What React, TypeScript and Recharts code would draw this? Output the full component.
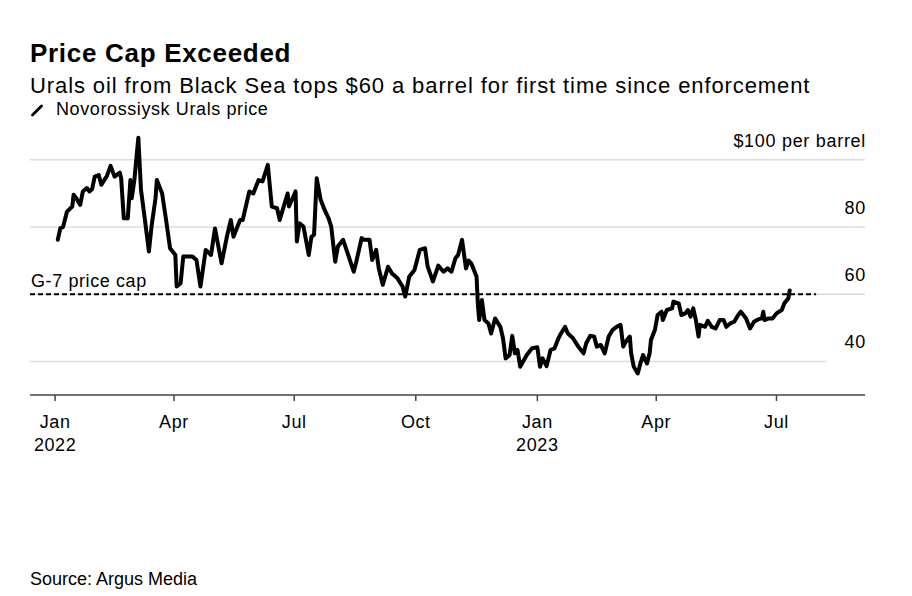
import { LineChart, Line, XAxis, YAxis, ReferenceLine } from 'recharts';

// Novorossiysk Urals price, $ per barrel (days counted from 1 Jan 2022)
const days = [
  2, 4, 6, 8, 9, 13, 14, 16, 19, 21, 24, 26, 28, 30, 33, 35, 38, 39, 42, 45,
  49, 50, 52, 55, 57, 58, 60, 63, 65, 68, 71, 73, 76, 77, 81, 84, 87, 91, 92, 95,
  97, 104, 107, 110, 114, 118, 121, 126, 130, 133, 135, 140, 142, 147, 150, 154, 157, 161, 164, 168,
  170, 173, 176, 177, 182, 183, 185, 188, 192, 194, 196, 198, 201, 204, 207, 209, 212, 214, 218, 221,
  226, 228, 232, 234, 238, 240, 243, 245, 248, 252, 255, 259, 263, 265, 268, 272, 276, 280, 282, 286,
  290, 294, 297, 300, 303, 305, 308, 311, 313, 315, 319, 320, 321, 323, 325, 328, 330, 333, 337, 339,
  341, 344, 346, 348, 350, 352, 357, 361, 365, 367, 369, 372, 375, 378, 381, 383, 386, 388, 392, 396,
  400, 402, 405, 408, 410, 413, 416, 419, 422, 425, 428, 430, 432, 435, 436, 438, 441, 443, 445, 448,
  450, 451, 454, 456, 459, 460, 463, 467, 468, 472, 474, 477, 479, 481, 483, 485, 487, 488, 492, 494,
  497, 500, 503, 506, 508, 511, 514, 517, 519, 523, 526, 529, 532, 535, 536, 537, 540, 543, 546, 550,
  552, 555, 556,
];

const prices = [
  76.2, 79.7, 80.0, 83.1, 84.6, 86.1, 89.6, 88.6, 86.6, 90.6, 91.6, 90.6, 91.3, 95.0, 95.5, 92.6, 94.5, 95.0, 98.2, 95.0,
  96.2, 94.5, 82.6, 82.6, 94.0, 88.6, 94.0, 106.6, 91.1, 82.1, 72.7, 80.2, 88.6, 94.0, 90.0, 82.1, 73.7, 71.7, 62.3, 63.3,
  71.2, 71.2, 70.2, 62.3, 73.2, 71.7, 79.6, 69.2, 77.1, 82.1, 77.1, 82.1, 82.1, 90.6, 90.0, 94.0, 93.6, 98.5, 86.1, 85.6,
  82.1, 86.1, 90.0, 86.1, 90.6, 75.7, 81.1, 80.1, 71.7, 77.1, 77.7, 94.5, 88.1, 85.1, 82.6, 80.1, 69.7, 74.2, 76.2, 72.7,
  66.7, 69.7, 76.7, 76.2, 76.2, 70.2, 73.2, 67.7, 62.8, 68.2, 66.2, 64.8, 62.3, 59.3, 65.2, 67.2, 73.2, 73.7, 68.2, 63.8,
  68.5, 66.7, 67.7, 66.7, 70.7, 71.7, 76.2, 67.7, 70.0, 69.2, 65.2, 56.8, 52.3, 58.3, 52.3, 51.3, 48.3, 52.8, 50.3, 46.9,
  40.9, 41.9, 47.6, 42.4, 43.4, 38.4, 41.9, 43.9, 44.2, 38.4, 40.9, 38.6, 43.4, 43.9, 46.9, 48.4, 50.3, 48.4, 46.9, 44.4,
  42.4, 45.4, 47.6, 47.4, 44.4, 44.9, 42.4, 47.4, 49.4, 50.3, 50.9, 44.4, 45.9, 47.4, 42.4, 38.4, 36.4, 39.4, 41.9, 39.4,
  42.4, 46.4, 49.4, 53.8, 54.8, 52.3, 55.3, 55.8, 57.8, 57.3, 53.8, 54.3, 55.3, 53.3, 55.8, 52.3, 47.4, 50.9, 50.3, 52.1,
  50.3, 49.8, 52.3, 52.3, 50.3, 51.3, 51.8, 53.8, 54.8, 52.8, 49.8, 51.8, 52.5, 52.8, 54.8, 52.3, 52.8, 52.8, 54.3, 55.3,
  57.3, 58.8, 61.1,
];

const tickDates = ['2022-01-01', '2022-04-01', '2022-07-01', '2022-10-01', '2023-01-01', '2023-04-01', '2023-07-01'];
const tickMonths = ['Jan', 'Apr', 'Jul', 'Oct', 'Jan', 'Apr', 'Jul'];
const tickYears = ['2022', '', '', '', '2023', '', ''];
const priceTicks = [40, 60, 80, 100];
const priceCap = 60;

const DAY0 = Date.UTC(2022, 0, 1);
const toDay = (iso: string) => (Date.parse(iso) - DAY0) / 86400000;
const xTicks = tickDates.map(toDay);
const data = days.map((d, i) => ({ day: d, price: prices[i] }));

const FONT = '"Liberation Sans", Arial, Helvetica, sans-serif';
const W = 912;
const H = 596;
const MARGIN = { top: 133, right: 46, bottom: 141, left: 30 };
const YAXIS_W = 1;
const XAXIS_H = 60;
const PLOT_BOTTOM = H - MARGIN.bottom - XAXIS_H;
const RIGHT_EDGE = W - MARGIN.right;
const X_DOMAIN: [number, number] = [-19, 613];
const GRID40_END = 583.5;
const CAP_END = 576;

function MonthTick({ x, payload }: any) {
  const i = xTicks.indexOf(payload.value);
  return (
    <g fontFamily={FONT} fontSize={18} fill="#000" letterSpacing={0.6}>
      <text x={x} y={PLOT_BOTTOM + 33} textAnchor="middle">{tickMonths[i]}</text>
      {tickYears[i] && (
        <text x={x} y={PLOT_BOTTOM + 56} textAnchor="middle">{tickYears[i]}</text>
      )}
    </g>
  );
}

function PriceTick({ y, payload }: any) {
  const v = payload.value;
  return (
    <text x={RIGHT_EDGE} y={y - 13} textAnchor="end" fontFamily={FONT} fontSize={18} letterSpacing={0.7} fill="#000">
      {v === 100 ? `$${v} per barrel` : v}
    </text>
  );
}

export default function App() {
  const grid = { stroke: '#dcdcdc', strokeWidth: 1.5 };
  return (
    <div style={{ position: 'absolute', left: 0, top: 0, width: W, height: H, background: '#fff', fontFamily: FONT, color: '#000' }}>
      <div style={{ position: 'absolute', left: 30, top: 40, fontSize: 26, lineHeight: '26px', fontWeight: 700, letterSpacing: 0.7, whiteSpace: 'nowrap' }}>
        Price Cap Exceeded
      </div>
      <div style={{ position: 'absolute', left: 30, top: 75, fontSize: 22, lineHeight: '22px', letterSpacing: 0.9, whiteSpace: 'nowrap' }}>
        Urals oil from Black Sea tops $60 a barrel for first time since enforcement
      </div>
      <div style={{ position: 'absolute', left: 30, top: 100, fontSize: 18, lineHeight: '18px', letterSpacing: 0.6, whiteSpace: 'nowrap', display: 'flex', alignItems: 'center' }}>
        <svg width={15} height={15} style={{ marginRight: 11 }}>
          <line x1={2.5} y1={13} x2={11.5} y2={4} stroke="#000" strokeWidth={2.8} strokeLinecap="round" />
        </svg>
        Novorossiysk Urals price
      </div>

      <div style={{ position: 'absolute', left: 0, top: 0 }}>
        <LineChart width={W} height={H} data={data} margin={MARGIN}>
          <XAxis
            type="number"
            dataKey="day"
            domain={X_DOMAIN}
            ticks={xTicks}
            interval={0}
            height={XAXIS_H}
            axisLine={{ stroke: '#444', strokeWidth: 1.5 }}
            tickLine={{ stroke: '#444', strokeWidth: 1.5 }}
            tickSize={6}
            tick={<MonthTick />}
          />
          <YAxis
            orientation="right"
            type="number"
            domain={[30, 108]}
            ticks={priceTicks}
            interval={0}
            width={YAXIS_W}
            axisLine={false}
            tickLine={false}
            tick={<PriceTick />}
          />
          <ReferenceLine y={100} {...grid} />
          <ReferenceLine y={80} {...grid} />
          <ReferenceLine y={priceCap} {...grid} />
          <ReferenceLine segment={[{ x: X_DOMAIN[0], y: 40 }, { x: GRID40_END, y: 40 }]} {...grid} />
          <ReferenceLine
            segment={[{ x: X_DOMAIN[0], y: priceCap }, { x: CAP_END, y: priceCap }]}
            stroke="#000"
            strokeWidth={1.8}
            strokeDasharray="5 3"
            label={({ viewBox }: any) => (
              <text x={viewBox.x + 1} y={viewBox.y - 7} fontFamily={FONT} fontSize={18} letterSpacing={0.6} fill="#000">
                G-7 price cap
              </text>
            )}
          />
          <Line
            type="linear"
            dataKey="price"
            stroke="#000"
            strokeWidth={4}
            strokeLinejoin="round"
            strokeLinecap="round"
            dot={false}
            activeDot={false}
            isAnimationActive={false}
          />
        </LineChart>
      </div>

      <div style={{ position: 'absolute', left: 30, top: 570, fontSize: 18, lineHeight: '18px', whiteSpace: 'nowrap' }}>
        Source: Argus Media
      </div>
    </div>
  );
}
